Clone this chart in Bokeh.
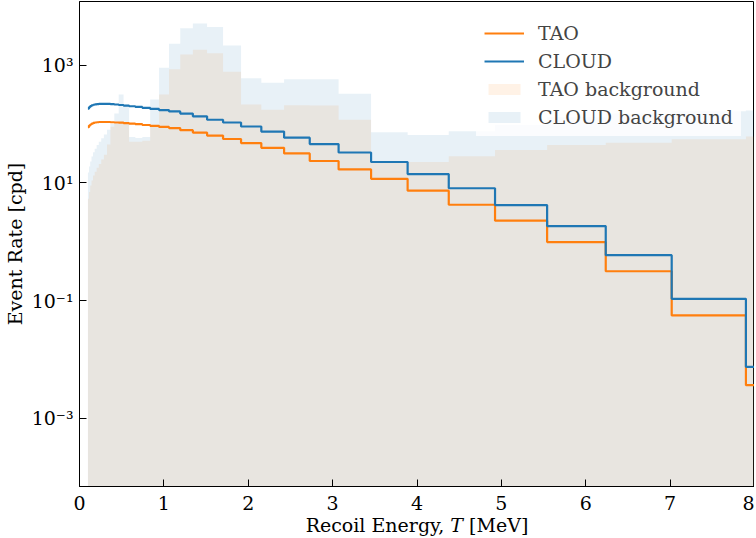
from bokeh.plotting import figure
from bokeh.models import Range1d, FixedTicker, CustomJSTickFormatter, Legend, LegendItem
from bokeh.embed import file_html
from bokeh.resources import INLINE

# bin edges (MeV), log-spaced
bin_edges = [0.1, 0.1125, 0.1266, 0.1425, 0.1604, 0.1805, 0.2031, 0.2286, 0.2572,
             0.2894, 0.3257, 0.3665, 0.4125, 0.4642, 0.5224, 0.5878, 0.6615, 0.7444,
             0.8377, 0.9428, 1.0609, 1.1939, 1.3436, 1.5120, 1.7015, 1.9148, 2.1548,
             2.4248, 2.7288, 3.0708, 3.4557, 3.8889, 4.3764, 4.9249, 5.5422, 6.2369,
             7.0187, 7.8984, 8.8885]

tao_signal = [88, 94, 98, 101, 104, 106, 107, 108, 108, 108, 108, 107, 106, 105,
              103, 101, 99, 96, 93, 89, 85, 78.3, 71.3, 63.4, 55.6, 47.4, 39.4,
              31.6, 23.5, 16.9, 11.7, 7.38, 4.25, 2.28, 0.99, 0.316, 0.0562, 0.00368]

cloud_signal = [182, 193, 201, 207, 212, 215, 218, 219, 220, 220, 219, 217, 214, 210,
                205, 200, 195, 188, 180, 172, 163, 150, 135, 118, 106, 90.5, 74.3,
                58.6, 45.6, 32.8, 22.6, 14.1, 8.1, 4.19, 1.85, 0.591, 0.1076, 0.00753]

tao_background = [5.4, 7, 9, 11, 13.4, 15.5, 18, 21, 25, 30, 45, 90, 100, 105,
                  100, 50, 50, 52, 90, 317, 853, 1506, 1811, 1588, 767, 214, 175,
                  208, 205, 118, 22.6, 22.6, 28.4, 36, 44, 48, 55, 61]

cloud_background = [15, 19, 23, 28, 33, 38, 44, 50, 57, 66, 80, 100, 150, 317,
                    214, 60, 58, 60, 261, 900, 2300, 4200, 5070, 4450, 2150, 597, 503,
                    575, 574, 326, 72.5, 65, 75, 96, 130, 150, 165, 170]

x_ticks = [0, 1, 2, 3, 4, 5, 6, 7, 8]
y_ticks = [1e-3, 1e-1, 1e1, 1e3]

FONT = "DejaVu Serif"
TAO_C = "#ff7f0e"
CLOUD_C = "#1f77b4"


def step_line(edges, vals):
    xs, ys = [], []
    for i, v in enumerate(vals):
        xs += [edges[i], edges[i + 1]]
        ys += [v, v]
    return xs, ys


def step_fill(edges, vals, floor=1e-6):
    xs, ys = step_line(edges, vals)
    return [xs[0]] + xs + [xs[-1]], [floor] + ys + [floor]


p = figure(width=754, height=538, output_backend="svg", toolbar_location=None,
           x_range=Range1d(0, 8), y_range=Range1d(7e-5, 1.2e4), y_axis_type="log",
           min_border_left=60, min_border_right=0, min_border_top=1, min_border_bottom=40)

fx, fy = step_fill(bin_edges, tao_background)
r_tb = p.patch(fx, fy, fill_color=TAO_C, fill_alpha=0.1, line_alpha=0)
fx, fy = step_fill(bin_edges, cloud_background)
r_cb = p.patch(fx, fy, fill_color=CLOUD_C, fill_alpha=0.1, line_alpha=0)

lx, ly = step_line(bin_edges, tao_signal)
r_t = p.line(lx, ly, line_color=TAO_C, line_width=2.2)
lx, ly = step_line(bin_edges, cloud_signal)
r_c = p.line(lx, ly, line_color=CLOUD_C, line_width=2.2)

p.xgrid.visible = False
p.ygrid.visible = False
p.outline_line_color = "black"
p.outline_line_width = 1
p.outline_line_alpha = 1

p.xaxis.ticker = FixedTicker(ticks=x_ticks, minor_ticks=[])
p.yaxis.ticker = FixedTicker(ticks=y_ticks, minor_ticks=[])
p.yaxis.formatter = CustomJSTickFormatter(code="""
const sup = {"-": "\u207b", "0": "\u2070", "1": "\u00b9", "2": "\u00b2", "3": "\u00b3",
             "4": "\u2074", "5": "\u2075", "6": "\u2076", "7": "\u2077", "8": "\u2078", "9": "\u2079"};
const e = Math.round(Math.log10(tick));
return "10" + String(e).split("").map(c => sup[c]).join("");
""")

for ax in (p.xaxis, p.yaxis):
    ax.major_tick_in = 7
    ax.major_tick_out = 0
    ax.minor_tick_in = 0
    ax.minor_tick_out = 0
    ax.axis_line_color = "black"
    ax.major_tick_line_color = "black"
    ax.major_label_text_font = FONT
    ax.major_label_text_font_size = "19px"
    ax.major_label_text_color = "black"
    ax.axis_label_text_font = FONT
    ax.axis_label_text_font_size = "19px"
    ax.axis_label_text_font_style = "normal"
    ax.axis_label_text_color = "black"

p.xaxis.major_label_standoff = 9
p.yaxis.major_label_standoff = 6
p.xaxis.axis_label = "Recoil Energy, \U0001D447 [MeV]"
p.yaxis.axis_label = "Event Rate [cpd]"
p.xaxis.axis_label_standoff = 1
p.yaxis.axis_label_standoff = 3

legend = Legend(items=[
    LegendItem(label="TAO", renderers=[r_t]),
    LegendItem(label="CLOUD", renderers=[r_c]),
    LegendItem(label="TAO background", renderers=[r_tb]),
    LegendItem(label="CLOUD background", renderers=[r_cb]),
], location="top_right")
legend.label_text_font = FONT
legend.label_text_font_size = "19px"
legend.glyph_width = 40
legend.glyph_height = 14
legend.label_standoff = 14
legend.spacing = 6
legend.padding = 8
legend.margin = 13
legend.border_line_alpha = 0
legend.background_fill_color = "white"
legend.background_fill_alpha = 0.8
p.add_layout(legend)

open("out.html", "w").write(file_html(p, INLINE))
